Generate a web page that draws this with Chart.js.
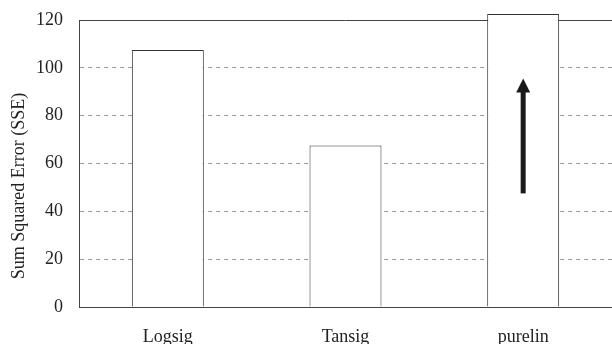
<!DOCTYPE html>
<html>
<head>
<meta charset="utf-8">
<script src="https://cdn.jsdelivr.net/npm/chart.js@4.4.0/dist/chart.umd.min.js"></script>
<style>
  html, body { margin: 0; padding: 0; background: #fff; }
  #wrap { width: 612px; height: 344px; }
</style>
</head>
<body>
<div id="wrap"><canvas id="sseChart"></canvas></div>
<script>
// data
const categories = ['Logsig', 'Tansig', 'purelin'];
const sseValues = [107.5, 67.5, 122.5];   // purelin goes off the top of the axis
const yTicks = [0, 20, 40, 60, 80, 100, 120];
const yTitle = 'Sum Squared Error (SSE)';
const arrowFrom = 47.5;   // arrow inside the purelin bar, in data units
const arrowTo = 95.5;

const FONT = 'Liberation Serif';

// top border of the plot box (under the bars) + y title, which sits a bit low in the original
const boxPlugin = {
  id: 'box',
  beforeDatasetsDraw(chart) {
    const { ctx, chartArea } = chart;
    ctx.save();
    ctx.strokeStyle = '#444';
    ctx.lineWidth = 1;
    ctx.beginPath();
    ctx.moveTo(chartArea.left, chartArea.top + 0.5);
    ctx.lineTo(chartArea.right, chartArea.top + 0.5);
    ctx.stroke();

    ctx.translate(19, 186);
    ctx.rotate(-Math.PI / 2);
    ctx.fillStyle = '#222';
    ctx.font = '18px "' + FONT + '"';
    ctx.textAlign = 'center';
    ctx.textBaseline = 'middle';
    ctx.fillText(yTitle, 0, 0);
    ctx.restore();
  }
};

// upward arrow in the last bar
const arrowPlugin = {
  id: 'arrow',
  afterDatasetsDraw(chart) {
    const { ctx, scales } = chart;
    const bar = chart.getDatasetMeta(0).data[2];
    const x = bar.x;
    const y0 = scales.y.getPixelForValue(arrowFrom);
    const y1 = scales.y.getPixelForValue(arrowTo);
    ctx.save();
    ctx.fillStyle = '#1a1a1a';
    ctx.fillRect(x - 2.5, y1 + 12, 5, y0 - y1 - 12);
    ctx.beginPath();
    ctx.moveTo(x, y1);
    ctx.lineTo(x - 7, y1 + 14);
    ctx.lineTo(x + 7, y1 + 14);
    ctx.closePath();
    ctx.fill();
    ctx.restore();
  }
};

const ctx = document.getElementById('sseChart').getContext('2d');
new Chart(ctx, {
  type: 'bar',
  data: {
    labels: categories,
    datasets: [{
      data: sseValues,
      backgroundColor: '#fff',
      borderColor: '#333',
      borderWidth: 1,
      barPercentage: 0.405,
      categoryPercentage: 1,
      clip: false
    }]
  },
  options: {
    responsive: true,
    maintainAspectRatio: false,
    animation: false,
    layout: { padding: { top: 20, right: 0, left: 0, bottom: 0 } },
    plugins: { legend: { display: false }, tooltip: { enabled: false } },
    scales: {
      x: {
        afterFit: s => { s.height = 37; },
        grid: { display: false },
        border: { color: '#444', width: 1 },
        ticks: { color: '#222', padding: 11, font: { family: FONT, size: 18 } }
      },
      y: {
        min: 0,
        max: 120,
        afterFit: s => { s.width = 79; s.paddingTop = 0; s.paddingBottom = 0; },
        afterBuildTicks: s => { s.ticks = yTicks.map(v => ({ value: v })); },
        grid: {
          drawTicks: false,
          color: c => (c.tick && (c.tick.value === 0 || c.tick.value === 120)) ? 'rgba(0,0,0,0)' : '#9a9a9a'
        },
        border: { color: '#444', width: 1, dash: [4, 4] },
        ticks: { color: '#222', padding: 16, font: { family: FONT, size: 18 } }
      }
    }
  },
  plugins: [boxPlugin, arrowPlugin]
});
</script>
</body>
</html>
